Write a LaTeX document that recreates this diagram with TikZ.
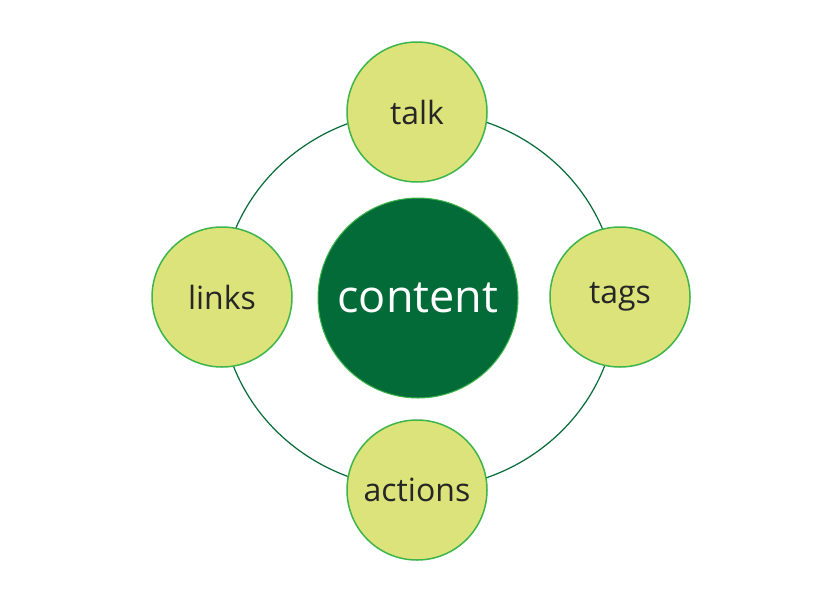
\documentclass[tikz,border=0pt]{standalone}
\usepackage{fontspec}
\setmainfont{Open Sans}
\usepackage{tikz}
\definecolor{darkgr}{HTML}{036B37}
\definecolor{lightgr}{HTML}{DCE37A}
\definecolor{rimgr}{HTML}{3DB54A}
\tikzset{
  leaf/.style={circle, draw=rimgr, line width=1.5pt, fill=lightgr, minimum size=140pt, inner sep=0pt, font=\fontsize{32}{34}\selectfont, text=black!85},
  hub/.style={circle, fill=darkgr, draw=rimgr, line width=1pt, minimum size=200pt, inner sep=0pt, font=\fontsize{45}{47}\selectfont, text=white}
}
\begin{document}
\begin{tikzpicture}[x=1pt,y=-1pt]
  \useasboundingbox (0,0) rectangle (840,603);
  \fill[white] (0,0) rectangle (840,603);
  \draw[darkgr, line width=1.2pt] (419,300) ellipse [x radius=198, y radius=189];
  \node[hub] (content) at (418,298) {content};
  \node[leaf] (talk) at (417,112) {talk};
  \node[leaf] (links) at (222,297) {links};
  \node[leaf] (tags) at (620,297) {tags};
  \node[leaf] (actions) at (417,490) {actions};
\end{tikzpicture}
\end{document}
